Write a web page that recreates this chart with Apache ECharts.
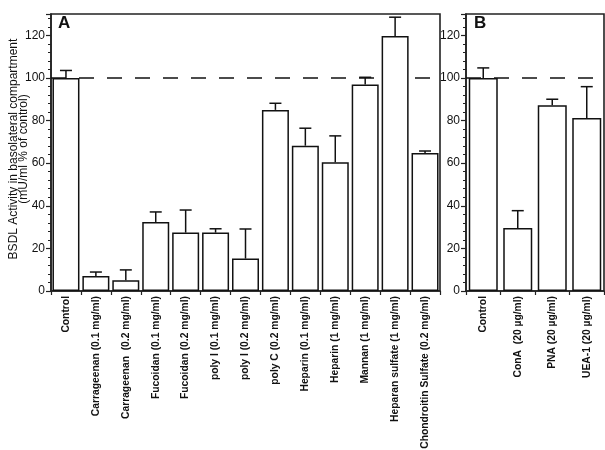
<!DOCTYPE html>
<html><head><meta charset="utf-8">
<script src="https://cdn.jsdelivr.net/npm/echarts@6/dist/echarts.min.js"></script>
<style>html,body{margin:0;padding:0;background:#fff}#c{width:605px;height:450px}</style>
</head><body><div id="c"></div>
<script>
const catsA = ['Control', 'Carrageenan (0.1 mg/ml)', 'Carrageenan  (0.2 mg/ml)', 'Fucoidan (0.1 mg/ml)', 'Fucoidan (0.2 mg/ml)', 'poly I (0.1 mg/ml)', 'poly I (0.2 mg/ml)', 'poly C (0.2 mg/ml)', 'Heparin (0.1 mg/ml)', 'Heparin (1 mg/ml)', 'Mannan (1 mg/ml)', 'Heparan sulfate (1 mg/ml)', 'Chondroitin Sulfate (0.2 mg/ml)'];
const valsA = [100, 7, 5, 32.4, 27.4, 27.4, 15.2, 85, 68.2, 60.4, 96.9, 119.7, 64.8];
const errTopA = [103.5, 8.9, 9.9, 37.1, 38, 29.2, 29.1, 88.1, 76.4, 72.8, 100.3, 128.5, 65.7];
const catsB = ['Control', 'ConA  (20 µg/ml)', 'PNA (20 µg/ml)', 'UEA-1 (20 µg/ml)'];
const valsB = [100, 29.6, 87.2, 81.2];
const errTopB = [104.7, 37.7, 90, 95.9];
const yTicks = {min: 0, max: 130, interval: 20};
const refLine = 100;
const yTitle = 'BSDL Activity in basolateral compartment\n(mU/ml % of control)';

const FONT = 'Liberation Sans, Arial, sans-serif';
const INK = '#222';
const chart = echarts.init(document.getElementById('c'), null, {renderer: 'canvas'});

function gridCfg(left, width) {
  return {left: left, width: width, top: 14, height: 277, show: true, borderColor: INK, borderWidth: 1.6,
    backgroundColor: 'transparent', containLabel: false, outerBoundsMode: 'none'};
}
function xAxisCfg(gi, cats) {
  return {
    type: 'category', gridIndex: gi, data: cats,
    axisLine: {lineStyle: {color: INK, width: 1.6}},
    axisTick: {show: true, length: 4, lineStyle: {color: INK, width: 1.2}},
    axisLabel: {rotate: 90, fontSize: 10.3, fontWeight: 'bold', color: '#111', fontFamily: FONT, margin: 5, interval: 0}
  };
}
function yAxisCfg(gi) {
  return {
    type: 'value', gridIndex: gi, min: yTicks.min, max: yTicks.max, interval: yTicks.interval,
    splitLine: {show: false},
    axisLine: {show: true, lineStyle: {color: INK, width: 1.6}},
    axisTick: {show: true, length: 5, lineStyle: {color: INK, width: 1.2}},
    minorTick: {show: true, splitNumber: 5, length: 3, lineStyle: {color: INK, width: 1}},
    axisLabel: {fontSize: 12, color: '#111', fontFamily: FONT, margin: 6, showMaxLabel: false}
  };
}
function barSeries(gi, vals, bw) {
  return {
    type: 'bar', xAxisIndex: gi, yAxisIndex: gi, data: vals, barWidth: bw,
    itemStyle: {color: '#fff', borderColor: '#111', borderWidth: 1.5},
    z: 3,
    markLine: {
      silent: true, symbol: ['none', 'none'], label: {show: false},
      lineStyle: {color: '#111', width: 1.5, type: [15, 13]},
      data: [{yAxis: refLine}], z: 2
    }
  };
}
function errSeries(gi, vals, tops) {
  return {
    type: 'custom', xAxisIndex: gi, yAxisIndex: gi, z: 4,
    data: vals.map((v, i) => [i, v, tops[i]]),
    encode: {x: 0, y: [1, 2]},
    renderItem: function (params, api) {
      const p0 = api.coord([api.value(0), api.value(1)]);
      const p1 = api.coord([api.value(0), api.value(2)]);
      const hw = 6;
      const st = {stroke: '#111', lineWidth: 1.5};
      return {type: 'group', children: [
        {type: 'line', shape: {x1: p0[0], y1: p0[1], x2: p1[0], y2: p1[1]}, style: st},
        {type: 'line', shape: {x1: p1[0] - hw, y1: p1[1], x2: p1[0] + hw, y2: p1[1]}, style: st}
      ]};
    }
  };
}

chart.setOption({
  animation: false,
  backgroundColor: '#fff',
  grid: [gridCfg(51, 389), gridCfg(466, 138)],
  xAxis: [xAxisCfg(0, catsA), xAxisCfg(1, catsB)],
  yAxis: [yAxisCfg(0), yAxisCfg(1)],
  graphic: [
    {type: 'text', x: 18.5, y: 149, rotation: Math.PI / 2,
      style: {text: yTitle, fontSize: 12, lineHeight: 10, fill: '#111', fontFamily: FONT, align: 'center', verticalAlign: 'middle'}},
    {type: 'text', left: 58, top: 15, style: {text: 'A', fontSize: 17, fontWeight: 'bold', fill: '#111', fontFamily: FONT}},
    {type: 'text', left: 474, top: 15, style: {text: 'B', fontSize: 17, fontWeight: 'bold', fill: '#111', fontFamily: FONT}}
  ],
  series: [
    barSeries(0, valsA, 27), errSeries(0, valsA, errTopA),
    barSeries(1, valsB, 29), errSeries(1, valsB, errTopB)
  ]
});
</script></body></html>
